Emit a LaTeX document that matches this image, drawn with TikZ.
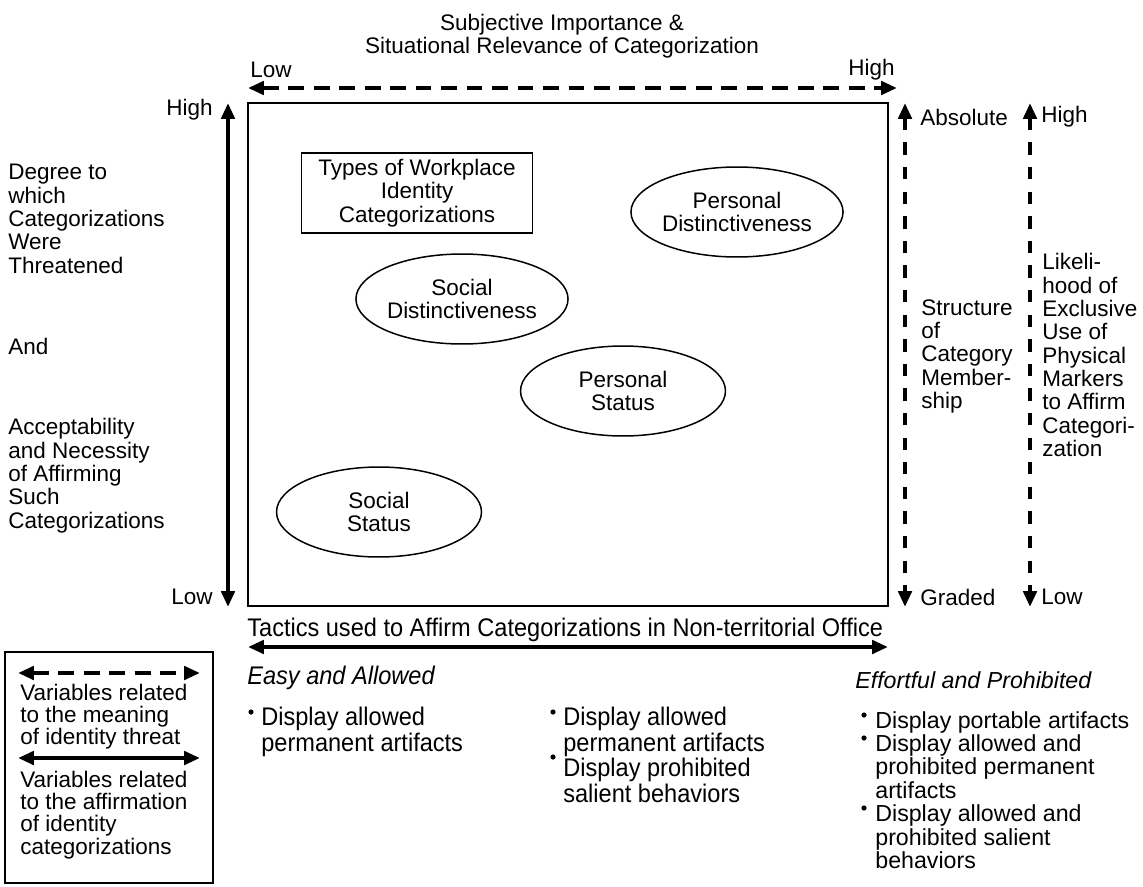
\documentclass[tikz,border=0pt]{standalone}
\usepackage{fontspec}
\setmainfont{Liberation Sans}
\newfontfamily\narrowfont[FakeStretch=0.925]{Liberation Sans}
\usetikzlibrary{arrows.meta,shapes.geometric,positioning}

\tikzset{
  txt/.style={inner sep=0pt, align=left, font=\fontsize{12.8}{13.3}\selectfont},
  ntxt/.style={inner sep=0pt, align=left, font=\narrowfont\fontsize{14.5}{12.5}\selectfont},
  cat/.style={draw, line width=0.85pt, ellipse, inner sep=0pt, minimum width=4.1cm, minimum height=1.8cm, align=center, font=\fontsize{12.8}{13.3}\selectfont},
  solidaxis/.style={line width=2.6pt, {Triangle[length=9pt,width=7.5pt]}-{Triangle[length=9pt,width=7.5pt]}},
  dashaxis/.style={line width=2.3pt, dash pattern=on 9pt off 5.5pt, {Triangle[length=9pt,width=7.5pt]}-{Triangle[length=9pt,width=7.5pt]}},
  vdashaxis/.style={dashaxis, dash pattern=on 7pt off 7pt},
}

\begin{document}
\begin{tikzpicture}[x=0.02cm,y=-0.02cm]
\useasboundingbox (0,0) rectangle (1143,886);

% frame of the plot
\draw[line width=1.1pt] (248,103) rectangle (888,606);

% axes
\coordinate (topl) at (248,88);  \coordinate (topr) at (897,88);
\coordinate (lefth) at (228,103); \coordinate (leftl) at (228,607);
\coordinate (strh) at (905,103);  \coordinate (strl) at (905,607);
\coordinate (likh) at (1030,103); \coordinate (likl) at (1030,607);
\coordinate (tacl) at (248,647);  \coordinate (tacr) at (888,647);
\draw[dashaxis] (topl) -- (topr);
\draw[solidaxis] (lefth) -- (leftl);
\draw[vdashaxis] (strh) -- (strl);
\draw[vdashaxis] (likh) -- (likl);
\draw[solidaxis] (tacl) -- (tacr);

\node[txt, align=center] (title) at (562,36) {Subjective Importance \&\\Situational Relevance of Categorization};
\node[txt, anchor=west] (toplow) at (250,70) {Low};
\node[txt, anchor=east] (tophigh) at (895,70) {High};
\node[txt, anchor=east] (lhigh) at (213,110) {High};
\node[txt, anchor=east] (llow) at (213,597) {Low};
\node[txt, anchor=west] (sabs) at (920,117) {Absolute};
\node[txt, anchor=west] (sgrad) at (920,597) {Graded};
\node[txt, anchor=west] (lhi) at (1041,117) {High};
\node[txt, anchor=west] (llo) at (1041,597) {Low};

\node[txt, anchor=north west] (degree) at (8,164) {Degree to\\which\\Categorizations\\Were\\Threatened};
\node[txt, anchor=north west] (and) at (8,338) {And};
\node[txt, anchor=north west] (accept) at (8,418) {Acceptability\\and Necessity\\of Affirming\\Such\\Categorizations};
\node[txt, anchor=north west] (struct) at (921,299) {Structure\\of\\Category\\Member-\\ship};
\node[txt, anchor=north west] (likeli) at (1042,253) {Likeli-\\hood of\\Exclusive\\Use of\\Physical\\Markers\\to Affirm\\Categori-\\zation};

% identity categorizations
\node[draw, line width=0.85pt, minimum width=4.62cm, minimum height=1.6cm, align=center, font=\fontsize{12.8}{13.3}\selectfont] (types) at (417,193) {Types of Workplace\\Identity\\Categorizations};
\foreach \nm/\x/\y/\lab in {pd/737/212/{Personal\\Distinctiveness},sd/462/299/{Social\\Distinctiveness},ps/623/391/{Personal\\Status},ss/379/512/{Social\\Status}}{
  \node[cat] (\nm) at (\x,\y) {\lab};
}

% tactics
\node[ntxt, anchor=west] (tactics) at (247,630) {Tactics used to Affirm Categorizations in Non-territorial Office};
\node[ntxt, anchor=west, font=\narrowfont\itshape\fontsize{14.5}{12.5}\selectfont] (easy) at (247,678) {Easy and Allowed};
\node[txt, anchor=west, font=\itshape\fontsize{13.2}{13.4}\selectfont] (effort) at (855,680) {Effortful and Prohibited};
\node[ntxt, anchor=north west] (easylist) at (261,707) {Display allowed\\permanent artifacts};
\node[ntxt, anchor=north west] (midlist) at (563,707) {Display allowed\\permanent artifacts\\Display prohibited\\salient behaviors};
\node[txt, anchor=north west, font=\fontsize{13.2}{13.3}\selectfont] (efflist) at (875,711) {Display portable artifacts\\Display allowed and\\prohibited permanent\\artifacts\\Display allowed and\\prohibited salient\\behaviors};
\foreach \x/\y in {247/717,549/717,549/762,860/720,860/743,860/813}{
  \fill (\x+4,\y-5) circle (2.6);
}

% legend
\draw[line width=1.1pt] (5,652) rectangle (213,883);
\coordinate (kdl) at (18,673); \coordinate (kdr) at (200,673);
\coordinate (ksl) at (18,758); \coordinate (ksr) at (200,758);
\draw[dashaxis] (kdl) -- (kdr);
\draw[solidaxis] (ksl) -- (ksr);
\node[txt, anchor=north west, font=\fontsize{12.8}{12.6}\selectfont] (kmean) at (20,684) {Variables related\\to the meaning\\of identity threat};
\node[txt, anchor=north west, font=\fontsize{12.8}{12.6}\selectfont] (kaff) at (20,771) {Variables related\\to the affirmation\\of identity\\categorizations};
\end{tikzpicture}
\end{document}
